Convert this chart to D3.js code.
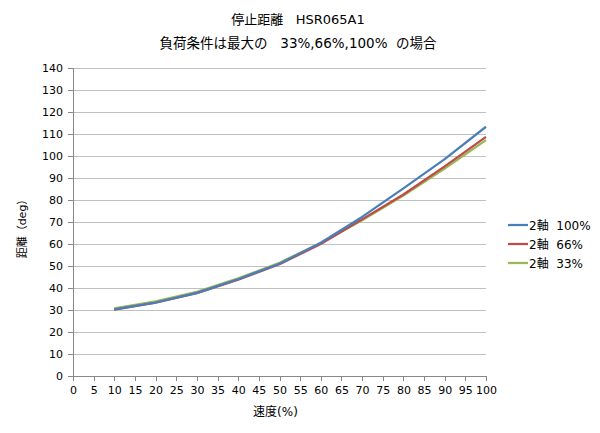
<!DOCTYPE html>
<html>
<head>
<meta charset="utf-8">
<script src="https://cdn.jsdelivr.net/npm/d3@7"></script>
<style>
body { margin: 0; background: #fff; }
text { font-family: "DejaVu Sans", "Noto Sans CJK JP", sans-serif; fill: #000; }
</style>
</head>
<body>
<div id="chart"></div>
<script>
// speed (%) on x, distance (deg) on y
var speeds = [10, 20, 30, 40, 50, 60, 70, 80, 90, 100];
var load100 = [30.3, 33.4, 37.8, 44.0, 51.0, 60.6, 72.3, 85.3, 98.6, 113.3];
var load66 = [30.2, 33.3, 37.7, 43.8, 50.8, 60.0, 71.2, 82.5, 95.3, 108.7];
var load33 = [30.7, 33.9, 38.3, 44.4, 51.5, 60.5, 70.8, 82.0, 94.3, 107.2];
var seriesNames = ["2軸\u00a0\u00a0100%", "2軸\u00a0\u00a066%", "2軸\u00a0\u00a033%"];
var xTicks = d3.range(0, 101, 5);
var yTicks = d3.range(0, 141, 10);

var colors = ["#4a7ebb", "#be4b48", "#98b954"];
var series = [load100, load66, load33];

var W = 600, H = 433;
var margin = {top: 68, right: 114, bottom: 57, left: 73};
var width = W - margin.left - margin.right;
var height = H - margin.top - margin.bottom;

var svg = d3.select("#chart").append("svg")
    .attr("width", W)
    .attr("height", H);

var g = svg.append("g")
    .attr("transform", "translate(" + margin.left + "," + margin.top + ")");

var x = d3.scaleLinear().domain([0, 100]).range([0, width]);
var y = d3.scaleLinear().domain([0, 140]).range([height, 0]);

// gridlines
g.selectAll(".grid")
    .data(yTicks.filter(function (d) { return d > 0; }))
    .enter().append("line")
    .attr("x1", 0)
    .attr("x2", width)
    .attr("y1", function (d) { return y(d); })
    .attr("y2", function (d) { return y(d); })
    .attr("stroke", "#c0c0c0")
    .attr("stroke-width", 1)
    .attr("shape-rendering", "crispEdges");

// axes
var yAxis = g.append("g")
    .call(d3.axisLeft(y).tickValues(yTicks).tickSize(5).tickPadding(5));
var xAxis = g.append("g")
    .attr("transform", "translate(0," + height + ")")
    .call(d3.axisBottom(x).tickValues(xTicks).tickSize(5).tickPadding(5));

[xAxis, yAxis].forEach(function (a) {
    a.selectAll("path, line").attr("stroke", "#888").attr("shape-rendering", "crispEdges");
    a.select(".domain").attr("d", a === xAxis ? "M0,0H" + width : "M0,0V" + height);
    a.selectAll("text").attr("font-size", 11).attr("font-family", "DejaVu Sans").attr("fill", "#000");
});

// lines
var line = d3.line()
    .x(function (d, i) { return x(speeds[i]); })
    .y(function (d) { return y(d); });

[2, 1, 0].forEach(function (k) {
    g.append("path")
        .datum(series[k])
        .attr("fill", "none")
        .attr("stroke", colors[k])
        .attr("stroke-width", 2.25)
        .attr("stroke-linejoin", "round")
        .attr("d", line);
});

// titles
svg.append("text")
    .attr("x", 298).attr("y", 24)
    .attr("text-anchor", "middle")
    .attr("font-size", 13)
    .text("停止距離\u00a0\u00a0\u00a0HSR065A1");
svg.append("text")
    .attr("x", 298).attr("y", 48)
    .attr("text-anchor", "middle")
    .attr("font-size", 13.5)
    .text("負荷条件は最大の\u00a0\u00a0\u00a033%,66%,100%\u00a0\u00a0の場合");

// axis titles
svg.append("text")
    .attr("x", margin.left + x(50) - 4).attr("y", 416)
    .attr("text-anchor", "middle")
    .attr("font-size", 12)
    .text("速度(%)");
svg.append("text")
    .attr("transform", "translate(26," + 226 + ") rotate(-90)")
    .attr("text-anchor", "middle")
    .attr("font-size", 11)
    .text("距離（deg）");

// legend
var legend = svg.append("g").attr("transform", "translate(508,225)");
seriesNames.forEach(function (name, i) {
    var row = legend.append("g").attr("transform", "translate(0," + (i * 19) + ")");
    row.append("line")
        .attr("x1", 0).attr("x2", 20)
        .attr("y1", 0).attr("y2", 0)
        .attr("stroke", colors[i])
        .attr("stroke-width", 2.25);
    row.append("text")
        .attr("x", 21).attr("y", 4.5)
        .attr("font-size", 12)
        .text(name);
});
</script>
</body>
</html>
